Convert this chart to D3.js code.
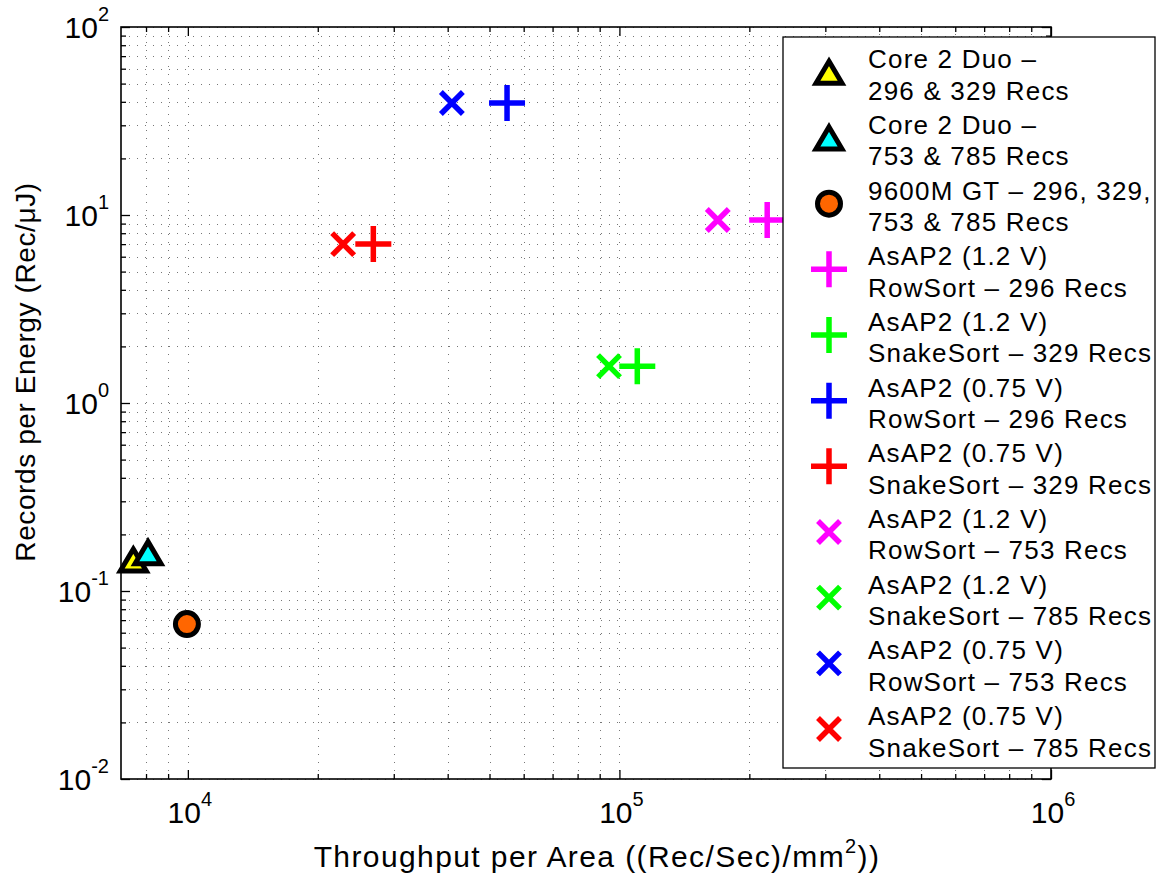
<!DOCTYPE html>
<html>
<head>
<meta charset="utf-8">
<script src="https://cdn.jsdelivr.net/npm/d3@7"></script>
<style>
  body { margin: 0; background: #fff; }
  svg { display: block; font-family: "Liberation Sans", Arial, Helvetica, sans-serif; }
</style>
</head>
<body>
<svg id="chart" width="1159" height="877"></svg>
<script>
// ---- data ----
const seriesLabels = [
  ["Core 2 Duo –", "296 & 329 Recs"],
  ["Core 2 Duo –", "753 & 785 Recs"],
  ["9600M GT – 296, 329,", "753 & 785 Recs"],
  ["AsAP2 (1.2 V)", "RowSort – 296 Recs"],
  ["AsAP2 (1.2 V)", "SnakeSort – 329 Recs"],
  ["AsAP2 (0.75 V)", "RowSort – 296 Recs"],
  ["AsAP2 (0.75 V)", "SnakeSort – 329 Recs"],
  ["AsAP2 (1.2 V)", "RowSort – 753 Recs"],
  ["AsAP2 (1.2 V)", "SnakeSort – 785 Recs"],
  ["AsAP2 (0.75 V)", "RowSort – 753 Recs"],
  ["AsAP2 (0.75 V)", "SnakeSort – 785 Recs"]
];
// throughput per area ((Rec/Sec)/mm^2)
const throughputPerArea = [7475, 8085, 9950, 220000, 110000, 54900, 26900, 169000, 94600, 40900, 22900];
// records per energy (Rec/uJ)
const recordsPerEnergy = [0.146, 0.160, 0.0667, 9.4, 1.57, 39.4, 7.0, 9.4, 1.57, 39.4, 7.0];
const markerShapes = ["triangle", "triangle", "circle", "plus", "plus", "plus", "plus", "cross", "cross", "cross", "cross"];
const markerColors = ["#ffff00", "#00ffff", "#ff6600", "#ff00ff", "#00ff00", "#0000ff", "#ff0000",
                      "#ff00ff", "#00ff00", "#0000ff", "#ff0000"];

const xTickValues = [1e4, 1e5, 1e6];
const xTickExponents = ["4", "5", "6"];
const yTickValues = [1e-2, 1e-1, 1e0, 1e1, 1e2];
const yTickExponents = ["-2", "-1", "0", "1", "2"];
const xTitle = "Throughput per Area ((Rec/Sec)/mm";
const yTitle = "Records per Energy (Rec/μJ)";

// ---- layout ----
const plot = { left: 121, right: 1051, top: 27, bottom: 779 };
const svg = d3.select("#chart");

const x = d3.scaleLog().domain([7000, 1e6]).range([plot.left, plot.right]);
const y = d3.scaleLog().domain([1e-2, 1e2]).range([plot.bottom, plot.top]);

function minorValues(domain) {
  const out = [];
  const lo = Math.floor(Math.log10(domain[0])), hi = Math.ceil(Math.log10(domain[1]));
  for (let e = lo; e < hi; e++) {
    for (let m = 2; m <= 9; m++) {
      const v = m * Math.pow(10, e);
      if (v > domain[0] && v < domain[1]) out.push(v);
    }
  }
  return out;
}
const xMinor = minorValues(x.domain());
const yMinor = minorValues(y.domain());

// ---- dotted grid (major + minor) ----
const grid = svg.append("g").attr("stroke", "#777").attr("stroke-width", 1)
  .attr("stroke-dasharray", "1,7").attr("fill", "none");
grid.selectAll("line.gx").data(xTickValues.concat(xMinor)).join("line")
  .attr("class", "gx")
  .attr("x1", d => Math.round(x(d)) + 0.5).attr("x2", d => Math.round(x(d)) + 0.5)
  .attr("y1", plot.bottom).attr("y2", plot.top);
grid.selectAll("line.gy").data(yTickValues.concat(yMinor)).join("line")
  .attr("class", "gy")
  .attr("y1", d => Math.round(y(d)) + 0.5).attr("y2", d => Math.round(y(d)) + 0.5)
  .attr("x1", plot.left).attr("x2", plot.right);

// ---- inward ticks on all four sides ----
function tickAxis(gen, values, size, transform) {
  const g = svg.append("g").attr("transform", transform)
    .call(gen.tickValues(values).tickSize(size).tickSizeOuter(0).tickFormat(""));
  g.select(".domain").remove();
  g.selectAll(".tick line").attr("stroke", "#000").attr("stroke-width", 1.3);
  return g;
}
const W = plot.right - plot.left, H = plot.bottom - plot.top;
[[xTickValues, 9], [xMinor, 5]].forEach(([vals, len]) => {
  tickAxis(d3.axisBottom(x), vals, -len, `translate(0,${plot.bottom})`);
  tickAxis(d3.axisTop(x), vals, -len, `translate(0,${plot.top})`);
});
[[yTickValues, 9], [yMinor, 5]].forEach(([vals, len]) => {
  tickAxis(d3.axisLeft(y), vals, -len, `translate(${plot.left},0)`);
  tickAxis(d3.axisRight(y), vals, -len, `translate(${plot.right},0)`);
});

// axes box
svg.append("rect")
  .attr("x", plot.left).attr("y", plot.top).attr("width", W).attr("height", H)
  .attr("fill", "none").attr("stroke", "#000").attr("stroke-width", 1.6);

// ---- tick labels (10 with superscript exponent) ----
const xLab = svg.append("g").attr("font-size", 30).attr("fill", "#000");
xTickValues.forEach((v, i) => {
  const t = xLab.append("text").attr("x", x(v) + 2).attr("y", 823).attr("text-anchor", "middle");
  t.append("tspan").text("10");
  t.append("tspan").attr("font-size", 20).attr("dy", -17).text(xTickExponents[i]);
});
const yLab = svg.append("g").attr("font-size", 30).attr("fill", "#000");
yTickValues.forEach((v, i) => {
  const t = yLab.append("text").attr("x", 109).attr("y", y(v) + 11).attr("text-anchor", "end");
  t.append("tspan").text("10");
  t.append("tspan").attr("font-size", 20).attr("dy", -17).text(yTickExponents[i]);
});

// ---- axis titles ----
const xt = svg.append("text").attr("x", 597).attr("y", 867).attr("text-anchor", "middle")
  .attr("font-size", 30).attr("letter-spacing", 1.4).attr("fill", "#000");
xt.append("tspan").text(xTitle);
xt.append("tspan").attr("font-size", 20).attr("dy", -14).text("2");
xt.append("tspan").attr("dy", 14).text("))");

svg.append("text")
  .attr("transform", `translate(35,372) rotate(-90)`)
  .attr("text-anchor", "middle").attr("font-size", 28).attr("letter-spacing", 0.6)
  .attr("fill", "#000").text(yTitle);

// ---- markers ----
function markerPath(shape) {
  if (shape === "plus") return "M-18,0H18M0,-18V18";
  if (shape === "cross") return "M-11,-11L11,11M-11,11L11,-11";
  if (shape === "triangle") return "M0,-11L13,11L-13,11Z";
  return null;
}
function drawMarker(g, shape, color) {
  if (shape === "circle") {
    g.append("circle").attr("r", 11.5).attr("fill", color).attr("stroke", "#000").attr("stroke-width", 5);
  } else if (shape === "triangle") {
    g.append("path").attr("d", markerPath(shape)).attr("fill", color)
      .attr("stroke", "#000").attr("stroke-width", 5).attr("stroke-linejoin", "miter");
  } else {
    g.append("path").attr("d", markerPath(shape)).attr("fill", "none")
      .attr("stroke", color).attr("stroke-width", 5.5).attr("stroke-linecap", "butt");
  }
}
const marks = svg.append("g");
throughputPerArea.forEach((v, i) => {
  const g = marks.append("g").attr("transform", `translate(${x(v)},${y(recordsPerEnergy[i])})`);
  drawMarker(g, markerShapes[i], markerColors[i]);
});

// ---- legend ----
const legend = { left: 783, top: 37, right: 1155, bottom: 768 };
const lg = svg.append("g");
lg.append("rect")
  .attr("x", legend.left).attr("y", legend.top)
  .attr("width", legend.right - legend.left).attr("height", legend.bottom - legend.top)
  .attr("fill", "#fff").attr("stroke", "#000").attr("stroke-width", 1.3);
const step = 65.67, firstBase = 68.3, lineGap = 31.5;
seriesLabels.forEach((lines, i) => {
  const base = firstBase + i * step;
  const g = lg.append("g").attr("transform", `translate(829,${base + 4})`);
  drawMarker(g, markerShapes[i], markerColors[i]);
  const t = lg.append("text").attr("x", 868).attr("y", base)
    .attr("font-size", 26).attr("letter-spacing", 1.2).attr("fill", "#000");
  t.append("tspan").attr("x", 868).text(lines[0]);
  t.append("tspan").attr("x", 868).attr("dy", lineGap).text(lines[1]);
});
</script>
</body>
</html>
